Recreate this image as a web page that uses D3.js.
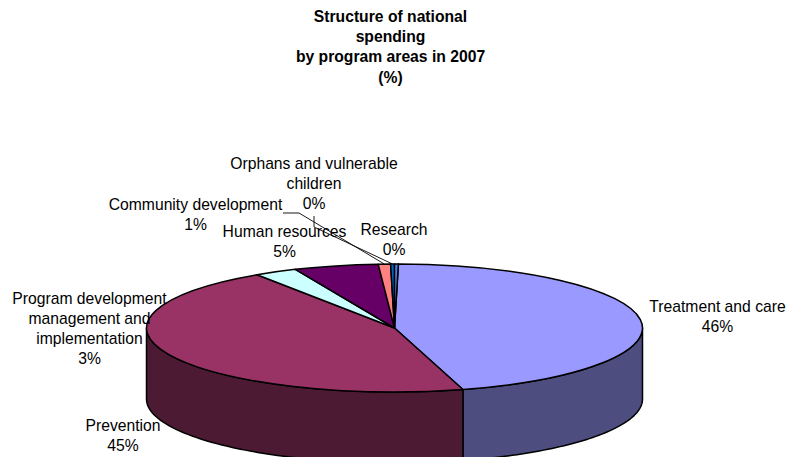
<!DOCTYPE html>
<html>
<head>
<meta charset="utf-8">
<script src="https://cdn.jsdelivr.net/npm/d3@7"></script>
<style>
  html, body { margin: 0; padding: 0; background: #fff; }
  svg { display: block; font-family: "Liberation Sans", Arial, sans-serif; }
</style>
</head>
<body>
<div id="chart"></div>
<script>
var titleLines = ["Structure of national", "spending", "by program areas in 2007", "(%)"];
var categories = ["Treatment and care", "Prevention", "Program development management and implementation", "Human resources", "Community development", "Orphans and vulnerable children", "Research"];
var shares = [45.3, 45.1, 2.8, 5.5, 0.8, 0.25, 0.25];
var shareLabels = ["46%", "45%", "3%", "5%", "1%", "0%", "0%"];
var topColors = ["#9999ff", "#993366", "#ccffff", "#660066", "#ff8080", "#0066cc", "#4a7fd8"];
var sideColors = ["#4d4d80", "#4d1a33", "#668080", "#330033", "#804040", "#003366", "#25406c"];
// wrapped label text, centre x and first baseline for each label
var labelLines = [["Treatment and care"], ["Prevention"], ["Program development", "management and", "implementation"], ["Human resources"], ["Community development"], ["Orphans and vulnerable", "children"], ["Research"]];
var labelX = [717.5, 123, 89.5, 284.5, 195.5, 314, 394];
var labelY = [311.7, 430.5, 303.7, 236.7, 209.7, 168.7, 234.7];

var width = 791;
var height = 457;
var cx = 394.5;
var cy = 328;
var rx = 248;
var ry = 64;
var depth = 71;

var svg = d3.select("#chart").append("svg").attr("width", width).attr("height", height);

// title
svg.append("g")
  .selectAll("text")
  .data(titleLines)
  .enter()
  .append("text")
  .attr("x", 390.5)
  .attr("y", function (d, i) { return 21.7 + i * 20.3; })
  .attr("text-anchor", "middle")
  .style("font-size", "15.7px")
  .style("font-weight", "bold")
  .attr("fill", "#000")
  .text(function (d) { return d; });

var pie = d3.pie().sort(null).startAngle(0.9 * Math.PI / 180).endAngle(360.9 * Math.PI / 180);
var slices = pie(shares);

// angle is clockwise from the top, same as d3.arc
function px(a) { return rx * Math.sin(a); }
function py(a) { return -ry * Math.cos(a); }

var plot = svg.append("g").attr("transform", "translate(" + cx + "," + cy + ")");

// side wall, only the front half of the ellipse can be seen
var wallLine = d3.line().x(function (d) { return d[0]; }).y(function (d) { return d[1]; });
slices.forEach(function (s, i) {
  var a0 = Math.max(s.startAngle, Math.PI / 2);
  var a1 = Math.min(s.endAngle, Math.PI * 1.5);
  if (a1 <= a0) return;
  var steps = d3.range(0, 61).map(function (k) { return a0 + (a1 - a0) * k / 60; });
  var pts = steps.map(function (a) { return [px(a), py(a)]; })
    .concat(steps.slice().reverse().map(function (a) { return [px(a), py(a) + depth]; }));
  plot.append("path")
    .attr("d", wallLine(pts) + "Z")
    .attr("fill", sideColors[i])
    .attr("stroke", "#000")
    .attr("stroke-width", 1.5)
    .attr("stroke-linejoin", "round");
});

// top face
var arc = d3.arc().innerRadius(0).outerRadius(rx);
plot.append("g")
  .attr("transform", "scale(1," + ry / rx + ")")
  .selectAll("path")
  .data(slices)
  .enter()
  .append("path")
  .attr("d", arc)
  .attr("fill", function (d, i) { return topColors[i]; })
  .attr("stroke", "#000")
  .attr("stroke-width", 1.5)
  .attr("stroke-linejoin", "round")
  .attr("vector-effect", "non-scaling-stroke");

// leader lines for the two small labels
var leaders = [
  { source: 4, points: [[283, 213], [299, 213]] },
  { source: 5, points: [[314, 216], [314, 227]] }
];
leaders.forEach(function (l) {
  var mid = (slices[l.source].startAngle + slices[l.source].endAngle) / 2;
  var pts = l.points.concat([[cx + px(mid), cy + py(mid)]]);
  svg.append("path")
    .attr("d", wallLine(pts))
    .attr("fill", "none")
    .attr("stroke", "#000")
    .attr("stroke-width", 0.9);
});

// labels
var lineHeight = 20;
var labels = svg.append("g")
  .selectAll("text")
  .data(categories)
  .enter()
  .append("text")
  .attr("text-anchor", "middle")
  .style("font-size", "15.7px")
  .attr("fill", "#000");

labels.each(function (d, i) {
  var rows = labelLines[i].concat([shareLabels[i]]);
  d3.select(this)
    .selectAll("tspan")
    .data(rows)
    .enter()
    .append("tspan")
    .attr("x", labelX[i])
    .attr("y", function (r, k) { return labelY[i] + k * lineHeight; })
    .text(function (r) { return r; });
});
</script>
</body>
</html>
